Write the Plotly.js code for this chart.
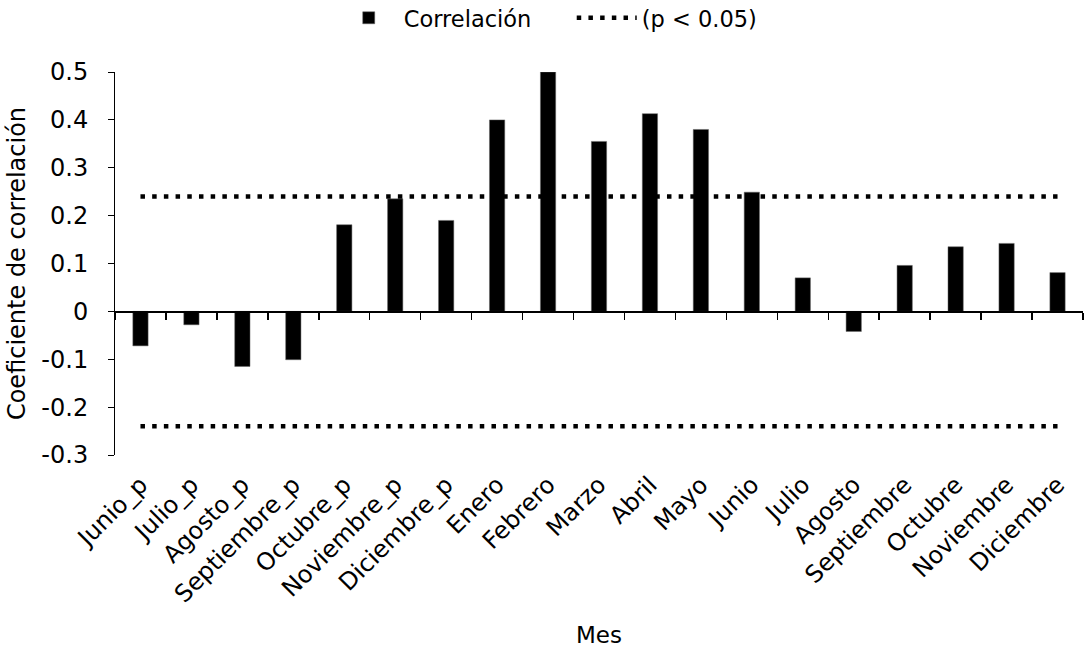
<!DOCTYPE html>
<html>
<head>
<meta charset="utf-8">
<script src="https://cdn.plot.ly/plotly-3.0.1.min.js"></script>
<style>html,body{margin:0;padding:0;background:#fff;}#chart{width:1089px;height:648px;}</style>
</head>
<body>
<div id="chart"></div>
<script>
const months = ["Junio_p","Julio_p","Agosto_p","Septiembre_p","Octubre_p","Noviembre_p","Diciembre_p","Enero","Febrero","Marzo","Abril","Mayo","Junio","Julio","Agosto","Septiembre","Octubre","Noviembre","Diciembre"];
const correlation = [-0.072,-0.028,-0.115,-0.101,0.181,0.235,0.19,0.4,0.5,0.355,0.413,0.38,0.249,0.07,-0.042,0.096,0.135,0.142,0.081];
const sigUpper = [0.24,0.24,0.24,0.24,0.24,0.24,0.24,0.24,0.24,0.24,0.24,0.24,0.24,0.24,0.24,0.24,0.24,0.24,0.24];
const sigLower = [-0.24,-0.24,-0.24,-0.24,-0.24,-0.24,-0.24,-0.24,-0.24,-0.24,-0.24,-0.24,-0.24,-0.24,-0.24,-0.24,-0.24,-0.24,-0.24];
const yTickVals = [-0.3,-0.2,-0.1,0,0.1,0.2,0.3,0.4,0.5];
const yTickText = ["-0.3","-0.2","-0.1","0","0.1","0.2","0.3","0.4","0.5"];

const font = "DejaVu Sans, Verdana, sans-serif";
const dotStyle = {color:"#000", width:4.5, dash:"4.5px,7.2px"};

const traces = [
  {type:"bar", x:months, y:correlation, name:"Correlación", width:0.3,
   marker:{color:"#000", line:{color:"#666", width:0.5}}, xaxis:"x", yaxis:"y"},
  {type:"scatter", mode:"lines", x:months, y:sigUpper, name:"(p < 0.05)",
   line:dotStyle, xaxis:"x2", yaxis:"y"},
  {type:"scatter", mode:"lines", x:months, y:sigLower, name:"(p < 0.05)", showlegend:false,
   line:dotStyle, xaxis:"x2", yaxis:"y"}
];

const layout = {
  width:1089, height:648,
  paper_bgcolor:"#fff", plot_bgcolor:"#fff",
  margin:{l:115, r:6, t:72, b:193},
  font:{family:font, size:22, color:"#000"},
  showlegend:true,
  legend:{orientation:"h", x:0.525, xref:"container", xanchor:"center", y:0.972, yref:"container", yanchor:"middle",
          font:{family:font, size:22.5, color:"#000"}, itemwidth:60, entrywidth:163, tracegroupgap:0},
  bargap:0.7,
  xaxis:{type:"category", range:[-0.5,18.5], showline:false, ticks:"", showgrid:false, zeroline:false,
         tickangle:-45, ticklabelstandoff:10, tickfont:{family:font, size:24, color:"#000"},
         title:{text:"Mes", font:{family:font, size:23, color:"#000"}, standoff:20}},
  xaxis2:{type:"category", range:[-0.5,18.5], overlaying:"x", anchor:"free", position:0.375,
          showline:true, linecolor:"#000", linewidth:1.5, ticks:"outside", tickson:"boundaries",
          ticklen:7, tickwidth:1.5, tickcolor:"#000", showticklabels:false, showgrid:false, zeroline:false},
  yaxis:{range:[-0.3,0.5], tickmode:"array", tickvals:yTickVals, ticktext:yTickText,
         showline:true, linecolor:"#000", linewidth:1, ticks:"outside", ticklen:6, tickcolor:"#000",
         ticklabelstandoff:15,
         showgrid:false, zeroline:false, tickfont:{family:font, size:24, color:"#000"},
         title:{text:"Coeficiente de correlación", font:{family:font, size:24, color:"#000"}, standoff:8}}
};

Plotly.newPlot("chart", traces, layout, {displayModeBar:false, staticPlot:true});
</script>
</body>
</html>
